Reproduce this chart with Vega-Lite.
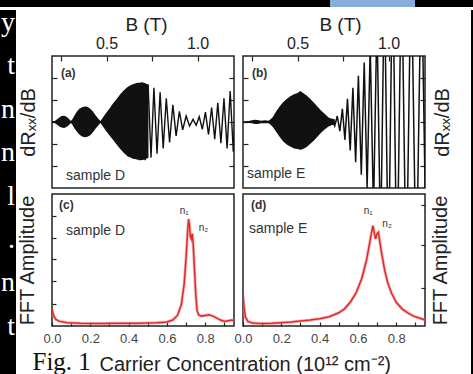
{
  "$schema": "https://vega.github.io/schema/vega-lite/v6.json",
  "padding": 0,
  "background": "white",
  "spacing": 0,
  "config": {
    "view": {"stroke": "#222", "strokeWidth": 1.5},
    "axis": {"domain": false, "grid": false, "minExtent": 0, "maxExtent": 500, "tickColor": "#222", "tickWidth": 1.2, "labelFont": "Liberation Sans", "titleFont": "Liberation Sans", "labelColor": "#222", "titleColor": "#222", "titleFontWeight": "normal", "labelFlush": false, "labelOverlap": false},
    "text": {"font": "Liberation Sans"}
  },
  "vconcat": [
    {
      "width": 473, "height": 7,
      "view": {"fill": "#000", "stroke": null},
      "data": {"values": [{"tab": "tab"}]},
      "mark": {"type": "rect", "color": "#86aedb"},
      "encoding": {
        "x": {"datum": 330, "type": "quantitative", "scale": {"domain": [0, 473]}, "axis": null},
        "x2": {"datum": 415},
        "y": {"datum": 0, "type": "quantitative", "scale": {"domain": [0, 1]}, "axis": null},
        "y2": {"datum": 1}
      }
    },
    {
      "spacing": 0,
      "hconcat": [
        {
          "width": 16, "height": 367,
          "view": {"fill": "#000", "stroke": null},
          "data": {"values": [{"ch": "y", "line": 1}, {"ch": "t", "line": 2}, {"ch": "n", "line": 3}, {"ch": "n", "line": 4}, {"ch": "l", "line": 5}, {"ch": ".", "line": 6}, {"ch": "n", "line": 7}, {"ch": "t", "line": 8}]},
          "mark": {"type": "text", "font": "Liberation Serif", "fontSize": 28, "color": "#fff", "align": "right", "baseline": "alphabetic", "clip": true},
          "encoding": {
            "x": {"datum": 15, "type": "quantitative", "scale": {"domain": [0, 16]}, "axis": null},
            "y": {"field": "line", "type": "quantitative", "scale": {"domain": [0.516, 8.97], "reverse": true, "nice": false, "zero": false}, "axis": null},
            "text": {"field": "ch"}
          }
        },
        {
          "spacing": 0,
          "vconcat": [
            {
              "width": 1, "height": 2, "view": {"stroke": null},
              "data": {"values": [{}]}, "mark": {"type": "point", "opacity": 0}
            },
            {
              "columns": 2,
              "bounds": "flush",
              "spacing": {"row": 6, "column": 9},
              "concat": [
                {
                  "width": 182, "height": 132,
                  "resolve": {"axis": {"x": "independent", "y": "independent"}},
                  "layer": [
                    {
                      "data": {"values": [
                        {"B": 0.200, "hi": 0.012, "lo": -0.012},
                        {"B": 0.215, "hi": 0.015, "lo": -0.015},
                        {"B": 0.228, "hi": 0.04, "lo": -0.04},
                        {"B": 0.240, "hi": 0.07, "lo": -0.07},
                        {"B": 0.252, "hi": 0.09, "lo": -0.085},
                        {"B": 0.266, "hi": 0.095, "lo": -0.09},
                        {"B": 0.280, "hi": 0.08, "lo": -0.075},
                        {"B": 0.292, "hi": 0.05, "lo": -0.05},
                        {"B": 0.304, "hi": 0.015, "lo": -0.015},
                        {"B": 0.312, "hi": 0.04, "lo": -0.04},
                        {"B": 0.322, "hi": 0.09, "lo": -0.09},
                        {"B": 0.335, "hi": 0.15, "lo": -0.14},
                        {"B": 0.350, "hi": 0.20, "lo": -0.19},
                        {"B": 0.365, "hi": 0.225, "lo": -0.22},
                        {"B": 0.380, "hi": 0.235, "lo": -0.23},
                        {"B": 0.395, "hi": 0.23, "lo": -0.225},
                        {"B": 0.410, "hi": 0.20, "lo": -0.20},
                        {"B": 0.425, "hi": 0.16, "lo": -0.155},
                        {"B": 0.440, "hi": 0.10, "lo": -0.10},
                        {"B": 0.455, "hi": 0.05, "lo": -0.05},
                        {"B": 0.466, "hi": 0.015, "lo": -0.015},
                        {"B": 0.478, "hi": 0.06, "lo": -0.06},
                        {"B": 0.495, "hi": 0.13, "lo": -0.13},
                        {"B": 0.515, "hi": 0.20, "lo": -0.20},
                        {"B": 0.535, "hi": 0.28, "lo": -0.27},
                        {"B": 0.555, "hi": 0.35, "lo": -0.34},
                        {"B": 0.575, "hi": 0.42, "lo": -0.41},
                        {"B": 0.595, "hi": 0.48, "lo": -0.47},
                        {"B": 0.615, "hi": 0.53, "lo": -0.52},
                        {"B": 0.640, "hi": 0.57, "lo": -0.55},
                        {"B": 0.665, "hi": 0.59, "lo": -0.57},
                        {"B": 0.690, "hi": 0.60, "lo": -0.58},
                        {"B": 0.710, "hi": 0.59, "lo": -0.57},
                        {"B": 0.730, "hi": 0.56, "lo": -0.54}
                      ]},
                      "mark": {"type": "area", "color": "#111", "clip": true},
                      "encoding": {
                        "x": {"field": "B", "type": "quantitative", "scale": {"domain": [0.2, 1.2], "nice": false, "zero": false},
                          "axis": {"orient": "top", "title": "B (T)", "titleFontSize": 19, "titlePadding": 1, "titleX": 94, "values": [0.25, 0.5, 0.75, 1], "labelExpr": "datum.value == 0.5 || datum.value == 1 ? format(datum.value, '.1f') : ''", "labelFontSize": 16, "labelPadding": 10, "tickSize": -5}},
                        "y": {"field": "hi", "type": "quantitative", "scale": {"domain": [-1, 1], "nice": false, "zero": false},
                          "axis": {"orient": "left", "title": "dRₓₓ/dB", "titleFontSize": 20, "titlePadding": 13, "labels": false, "values": [-0.667, -0.333, 0, 0.333, 0.667], "tickSize": -5}},
                        "y2": {"field": "lo"}
                      }
                    },
                    {
                      "data": {"values": [
                        {"B": 0.600, "v": 0.48}, {"B": 0.616, "v": -0.52}, {"B": 0.632, "v": 0.55}, {"B": 0.648, "v": -0.56},
                        {"B": 0.664, "v": 0.58}, {"B": 0.680, "v": -0.58}, {"B": 0.696, "v": 0.60}, {"B": 0.712, "v": -0.58},
                        {"B": 0.728, "v": 0.57}, {"B": 0.744, "v": -0.54}, {"B": 0.760, "v": 0.52}, {"B": 0.777, "v": -0.48},
                        {"B": 0.794, "v": 0.45}, {"B": 0.811, "v": -0.40}, {"B": 0.828, "v": 0.36}, {"B": 0.846, "v": -0.31},
                        {"B": 0.864, "v": 0.26}, {"B": 0.882, "v": -0.21}, {"B": 0.900, "v": 0.16}, {"B": 0.918, "v": -0.12},
                        {"B": 0.937, "v": 0.09}, {"B": 0.956, "v": -0.06}, {"B": 0.975, "v": 0.04}, {"B": 0.992, "v": -0.05},
                        {"B": 1.009, "v": 0.08}, {"B": 1.026, "v": -0.11}, {"B": 1.043, "v": 0.15}, {"B": 1.060, "v": -0.19},
                        {"B": 1.077, "v": 0.22}, {"B": 1.094, "v": -0.26}, {"B": 1.111, "v": 0.29}, {"B": 1.128, "v": -0.32},
                        {"B": 1.145, "v": 0.36}, {"B": 1.162, "v": -0.40}, {"B": 1.179, "v": 0.47}, {"B": 1.196, "v": -0.45},
                        {"B": 1.213, "v": 0.52}
                      ]},
                      "mark": {"type": "line", "color": "#111", "strokeWidth": 1.4, "clip": true},
                      "encoding": {
                        "x": {"field": "B", "type": "quantitative", "axis": null},
                        "y": {"field": "v", "type": "quantitative", "axis": {"orient": "right", "title": null, "labels": false, "values": [-0.667, -0.333, 0, 0.333, 0.667], "tickSize": -5}}
                      }
                    },
                    {
                      "data": {"values": [{"t": "(a)"}]},
                      "mark": {"type": "text", "fontSize": 12, "fontWeight": "bold", "color": "#333", "align": "left", "baseline": "middle"},
                      "encoding": {"x": {"datum": 0.249, "type": "quantitative", "axis": null}, "y": {"datum": 0.74, "type": "quantitative", "axis": null}, "text": {"field": "t"}}
                    },
                    {
                      "data": {"values": [{"t": "sample D"}]},
                      "mark": {"type": "text", "fontSize": 14, "color": "#333", "align": "left", "baseline": "middle"},
                      "encoding": {"x": {"datum": 0.277, "type": "quantitative", "axis": null}, "y": {"datum": -0.82, "type": "quantitative", "axis": null}, "text": {"field": "t"}}
                    }
                  ]
                },
                {
                  "width": 182, "height": 132,
                  "resolve": {"axis": {"x": "independent", "y": "independent"}},
                  "layer": [
                    {
                      "data": {"values": [
                        {"B": 0.200, "hi": 0.012, "lo": -0.012},
                        {"B": 0.230, "hi": 0.015, "lo": -0.015},
                        {"B": 0.250, "hi": 0.025, "lo": -0.02},
                        {"B": 0.265, "hi": 0.035, "lo": -0.03},
                        {"B": 0.280, "hi": 0.03, "lo": -0.03},
                        {"B": 0.300, "hi": 0.02, "lo": -0.02},
                        {"B": 0.320, "hi": 0.025, "lo": -0.02},
                        {"B": 0.340, "hi": 0.02, "lo": -0.02},
                        {"B": 0.352, "hi": 0.04, "lo": -0.04},
                        {"B": 0.365, "hi": 0.08, "lo": -0.08},
                        {"B": 0.380, "hi": 0.15, "lo": -0.14},
                        {"B": 0.400, "hi": 0.23, "lo": -0.22},
                        {"B": 0.420, "hi": 0.30, "lo": -0.29},
                        {"B": 0.440, "hi": 0.35, "lo": -0.34},
                        {"B": 0.460, "hi": 0.39, "lo": -0.37},
                        {"B": 0.480, "hi": 0.42, "lo": -0.40},
                        {"B": 0.500, "hi": 0.44, "lo": -0.41},
                        {"B": 0.515, "hi": 0.47, "lo": -0.42},
                        {"B": 0.530, "hi": 0.44, "lo": -0.41},
                        {"B": 0.550, "hi": 0.40, "lo": -0.38},
                        {"B": 0.570, "hi": 0.35, "lo": -0.33},
                        {"B": 0.590, "hi": 0.29, "lo": -0.28},
                        {"B": 0.610, "hi": 0.23, "lo": -0.22},
                        {"B": 0.630, "hi": 0.17, "lo": -0.16},
                        {"B": 0.650, "hi": 0.12, "lo": -0.11},
                        {"B": 0.670, "hi": 0.07, "lo": -0.07},
                        {"B": 0.690, "hi": 0.045, "lo": -0.045},
                        {"B": 0.705, "hi": 0.04, "lo": -0.04}
                      ]},
                      "mark": {"type": "area", "color": "#111", "clip": true},
                      "encoding": {
                        "x": {"field": "B", "type": "quantitative", "scale": {"domain": [0.2, 1.2], "nice": false, "zero": false},
                          "axis": {"orient": "top", "title": "B (T)", "titleFontSize": 19, "titlePadding": 1, "titleX": 97, "values": [0.25, 0.5, 0.75, 1], "labelExpr": "datum.value == 0.5 || datum.value == 1 ? format(datum.value, '.1f') : ''", "labelFontSize": 16, "labelPadding": 10, "tickSize": -5}},
                        "y": {"field": "hi", "type": "quantitative", "scale": {"domain": [-1, 1], "nice": false, "zero": false},
                          "axis": {"orient": "left", "title": null, "labels": false, "values": [-0.667, -0.333, 0, 0.333, 0.667], "tickSize": -5}},
                        "y2": {"field": "lo"}
                      }
                    },
                    {
                      "data": {"values": [
                        {"B": 0.690, "v": 0.05}, {"B": 0.704, "v": -0.06}, {"B": 0.718, "v": 0.09}, {"B": 0.732, "v": -0.14},
                        {"B": 0.746, "v": 0.20}, {"B": 0.760, "v": -0.27}, {"B": 0.774, "v": 0.35}, {"B": 0.789, "v": -0.43},
                        {"B": 0.804, "v": 0.52}, {"B": 0.819, "v": -0.61}, {"B": 0.834, "v": 0.70}, {"B": 0.850, "v": -0.80},
                        {"B": 0.866, "v": 0.90}, {"B": 0.882, "v": -1.00}, {"B": 0.899, "v": 1.15}, {"B": 0.917, "v": -1.35},
                        {"B": 0.936, "v": 1.6}, {"B": 0.956, "v": -1.9}, {"B": 0.977, "v": 2.2}, {"B": 0.999, "v": -2.4},
                        {"B": 1.022, "v": 2.5}, {"B": 1.046, "v": -2.5}, {"B": 1.071, "v": 2.5}, {"B": 1.097, "v": -2.5},
                        {"B": 1.124, "v": 2.5}, {"B": 1.152, "v": -2.5}, {"B": 1.180, "v": 2.5}, {"B": 1.209, "v": -2.5}
                      ]},
                      "mark": {"type": "line", "color": "#111", "strokeWidth": 1.5, "clip": true},
                      "encoding": {
                        "x": {"field": "B", "type": "quantitative", "axis": null},
                        "y": {"field": "v", "type": "quantitative", "axis": {"orient": "right", "title": "dRₓₓ/dB", "titleFontSize": 20, "titleAngle": 270, "titleBaseline": "top", "titlePadding": 7, "labels": false, "values": [-0.667, -0.333, 0, 0.333, 0.667], "tickSize": -5}}
                      }
                    },
                    {
                      "data": {"values": [{"t": "(b)"}]},
                      "mark": {"type": "text", "fontSize": 12, "fontWeight": "bold", "color": "#333", "align": "left", "baseline": "middle"},
                      "encoding": {"x": {"datum": 0.249, "type": "quantitative", "axis": null}, "y": {"datum": 0.74, "type": "quantitative", "axis": null}, "text": {"field": "t"}}
                    },
                    {
                      "data": {"values": [{"t": "sample E"}]},
                      "mark": {"type": "text", "fontSize": 14, "color": "#333", "align": "left", "baseline": "middle"},
                      "encoding": {"x": {"datum": 0.222, "type": "quantitative", "axis": null}, "y": {"datum": -0.79, "type": "quantitative", "axis": null}, "text": {"field": "t"}}
                    }
                  ]
                },
                {
                  "width": 182, "height": 132,
                  "resolve": {"axis": {"x": "independent", "y": "independent"}},
                  "layer": [
                    {
                      "data": {"name": "fftD", "values": [
                        {"n": 0.000, "a": 0.13}, {"n": 0.008, "a": 0.08}, {"n": 0.020, "a": 0.05}, {"n": 0.040, "a": 0.035},
                        {"n": 0.080, "a": 0.025}, {"n": 0.150, "a": 0.02}, {"n": 0.250, "a": 0.018}, {"n": 0.350, "a": 0.02},
                        {"n": 0.450, "a": 0.02}, {"n": 0.550, "a": 0.025}, {"n": 0.600, "a": 0.03}, {"n": 0.630, "a": 0.045},
                        {"n": 0.655, "a": 0.08}, {"n": 0.675, "a": 0.16}, {"n": 0.690, "a": 0.32}, {"n": 0.700, "a": 0.52},
                        {"n": 0.708, "a": 0.72}, {"n": 0.713, "a": 0.81}, {"n": 0.718, "a": 0.76}, {"n": 0.722, "a": 0.68},
                        {"n": 0.727, "a": 0.66}, {"n": 0.732, "a": 0.70}, {"n": 0.737, "a": 0.62}, {"n": 0.743, "a": 0.45},
                        {"n": 0.750, "a": 0.25}, {"n": 0.757, "a": 0.12}, {"n": 0.765, "a": 0.085}, {"n": 0.780, "a": 0.075},
                        {"n": 0.800, "a": 0.08}, {"n": 0.820, "a": 0.085}, {"n": 0.840, "a": 0.075}, {"n": 0.860, "a": 0.06},
                        {"n": 0.880, "a": 0.045}, {"n": 0.900, "a": 0.035}, {"n": 0.920, "a": 0.04}, {"n": 0.940, "a": 0.045},
                        {"n": 0.950, "a": 0.04}
                      ]},
                      "mark": {"type": "line", "color": "#f08a8a", "strokeWidth": 3.2, "opacity": 0.6, "clip": true},
                      "encoding": {
                        "x": {"field": "n", "type": "quantitative", "scale": {"domain": [0, 0.95], "nice": false, "zero": false},
                          "axis": {"orient": "bottom", "values": [0, 0.1, 0.2, 0.3, 0.4, 0.5, 0.6, 0.7, 0.8, 0.9], "labelExpr": "round(datum.value*10) % 2 == 0 ? format(datum.value, '.1f') : ''", "labelFontSize": 13, "labelColor": "#444", "labelPadding": 10.5, "tickSize": -4,
                            "title": "Fig. 1", "titleFont": "Liberation Serif", "titleFontSize": 25, "titleColor": "#111", "titleX": -20, "titleY": 43, "titleAlign": "left", "titleBaseline": "alphabetic"}},
                        "y": {"field": "a", "type": "quantitative", "scale": {"domain": [0, 1], "nice": false},
                          "axis": {"orient": "left", "title": "FFT Amplitude", "titleFontSize": 20, "titlePadding": 14, "labels": false, "values": [0.17, 0.34, 0.51, 0.67, 0.83], "tickSize": -4}}
                      }
                    },
                    {
                      "data": {"name": "fftD"},
                      "mark": {"type": "line", "color": "#e02a2a", "strokeWidth": 1.5, "clip": true},
                      "encoding": {"x": {"field": "n", "type": "quantitative", "axis": null}, "y": {"field": "a", "type": "quantitative", "axis": null}}
                    },
                    {
                      "data": {"values": [{"t": "(c)"}]},
                      "mark": {"type": "text", "fontSize": 12, "fontWeight": "bold", "color": "#333", "align": "left", "baseline": "middle"},
                      "encoding": {"x": {"datum": 0.037, "type": "quantitative", "axis": null}, "y": {"datum": 0.92, "type": "quantitative", "axis": null}, "text": {"field": "t"}}
                    },
                    {
                      "data": {"values": [{"t": "sample D"}]},
                      "mark": {"type": "text", "fontSize": 14, "color": "#333", "align": "left", "baseline": "middle"},
                      "encoding": {"x": {"datum": 0.073, "type": "quantitative", "axis": null}, "y": {"datum": 0.72, "type": "quantitative", "axis": null}, "text": {"field": "t"}}
                    },
                    {
                      "data": {"values": [{"t": "n₁"}]},
                      "mark": {"type": "text", "fontSize": 10, "color": "#333", "align": "center", "baseline": "middle"},
                      "encoding": {"x": {"datum": 0.69, "type": "quantitative", "axis": null}, "y": {"datum": 0.87, "type": "quantitative", "axis": null}, "text": {"field": "t"}}
                    },
                    {
                      "data": {"values": [{"t": "n₂"}]},
                      "mark": {"type": "text", "fontSize": 10, "color": "#333", "align": "center", "baseline": "middle"},
                      "encoding": {"x": {"datum": 0.79, "type": "quantitative", "axis": null}, "y": {"datum": 0.74, "type": "quantitative", "axis": null}, "text": {"field": "t"}}
                    }
                  ]
                },
                {
                  "width": 182, "height": 132,
                  "resolve": {"axis": {"x": "independent", "y": "independent"}},
                  "layer": [
                    {
                      "data": {"name": "fftE", "values": [
                        {"n": 0.000, "a": 0.24}, {"n": 0.005, "a": 0.15}, {"n": 0.012, "a": 0.07}, {"n": 0.025, "a": 0.035},
                        {"n": 0.050, "a": 0.022}, {"n": 0.100, "a": 0.018}, {"n": 0.150, "a": 0.02}, {"n": 0.200, "a": 0.025},
                        {"n": 0.250, "a": 0.03}, {"n": 0.300, "a": 0.038}, {"n": 0.350, "a": 0.045}, {"n": 0.400, "a": 0.055},
                        {"n": 0.450, "a": 0.07}, {"n": 0.500, "a": 0.10}, {"n": 0.530, "a": 0.13}, {"n": 0.560, "a": 0.18},
                        {"n": 0.590, "a": 0.25}, {"n": 0.620, "a": 0.36}, {"n": 0.645, "a": 0.50}, {"n": 0.665, "a": 0.66},
                        {"n": 0.678, "a": 0.76}, {"n": 0.686, "a": 0.70}, {"n": 0.692, "a": 0.66}, {"n": 0.700, "a": 0.70},
                        {"n": 0.707, "a": 0.71}, {"n": 0.715, "a": 0.63}, {"n": 0.725, "a": 0.54}, {"n": 0.740, "a": 0.42},
                        {"n": 0.755, "a": 0.33}, {"n": 0.775, "a": 0.25}, {"n": 0.800, "a": 0.18}, {"n": 0.830, "a": 0.13},
                        {"n": 0.860, "a": 0.10}, {"n": 0.890, "a": 0.075}, {"n": 0.920, "a": 0.06}, {"n": 0.950, "a": 0.045}
                      ]},
                      "mark": {"type": "line", "color": "#f08a8a", "strokeWidth": 3.2, "opacity": 0.6, "clip": true},
                      "encoding": {
                        "x": {"field": "n", "type": "quantitative", "scale": {"domain": [0, 0.95], "nice": false, "zero": false},
                          "axis": {"orient": "bottom", "values": [0, 0.1, 0.2, 0.3, 0.4, 0.5, 0.6, 0.7, 0.8, 0.9], "labelExpr": "round(datum.value*10) % 2 == 0 ? format(datum.value, '.1f') : ''", "labelFontSize": 13, "labelColor": "#444", "labelPadding": 10.5, "tickSize": -4,
                            "title": "Carrier Concentration (10¹² cm⁻²)", "titleFontSize": 20, "titleColor": "#222", "titleX": -144, "titleY": 44, "titleAlign": "left", "titleBaseline": "alphabetic"}},
                        "y": {"field": "a", "type": "quantitative", "scale": {"domain": [0, 1], "nice": false},
                          "axis": {"orient": "right", "title": "FFT Amplitude", "titleFontSize": 20, "titleAngle": 270, "titleBaseline": "top", "titlePadding": 5, "labels": false, "values": [0.29, 0.61, 0.92], "tickSize": -4}}
                      }
                    },
                    {
                      "data": {"name": "fftE"},
                      "mark": {"type": "line", "color": "#e02a2a", "strokeWidth": 1.5, "clip": true},
                      "encoding": {"x": {"field": "n", "type": "quantitative", "axis": null}, "y": {"field": "a", "type": "quantitative", "axis": null}}
                    },
                    {
                      "data": {"values": [{"t": "(d)"}]},
                      "mark": {"type": "text", "fontSize": 12, "fontWeight": "bold", "color": "#333", "align": "left", "baseline": "middle"},
                      "encoding": {"x": {"datum": 0.042, "type": "quantitative", "axis": null}, "y": {"datum": 0.92, "type": "quantitative", "axis": null}, "text": {"field": "t"}}
                    },
                    {
                      "data": {"values": [{"t": "sample E"}]},
                      "mark": {"type": "text", "fontSize": 14, "color": "#333", "align": "left", "baseline": "middle"},
                      "encoding": {"x": {"datum": 0.031, "type": "quantitative", "axis": null}, "y": {"datum": 0.735, "type": "quantitative", "axis": null}, "text": {"field": "t"}}
                    },
                    {
                      "data": {"values": [{"t": "n₁"}]},
                      "mark": {"type": "text", "fontSize": 10, "color": "#333", "align": "center", "baseline": "middle"},
                      "encoding": {"x": {"datum": 0.653, "type": "quantitative", "axis": null}, "y": {"datum": 0.87, "type": "quantitative", "axis": null}, "text": {"field": "t"}}
                    },
                    {
                      "data": {"values": [{"t": "n₂"}]},
                      "mark": {"type": "text", "fontSize": 10, "color": "#333", "align": "center", "baseline": "middle"},
                      "encoding": {"x": {"datum": 0.752, "type": "quantitative", "axis": null}, "y": {"datum": 0.77, "type": "quantitative", "axis": null}, "text": {"field": "t"}}
                    }
                  ]
                }
              ]
            }
          ]
        },
        {
          "width": 17, "height": 1, "view": {"stroke": null},
          "data": {"values": [{}]}, "mark": {"type": "point", "opacity": 0}
        },
        {
          "width": 7, "height": 367,
          "view": {"fill": "#000", "stroke": null},
          "data": {"values": [{}]}, "mark": {"type": "point", "opacity": 0}
        }
      ]
    }
  ]
}
